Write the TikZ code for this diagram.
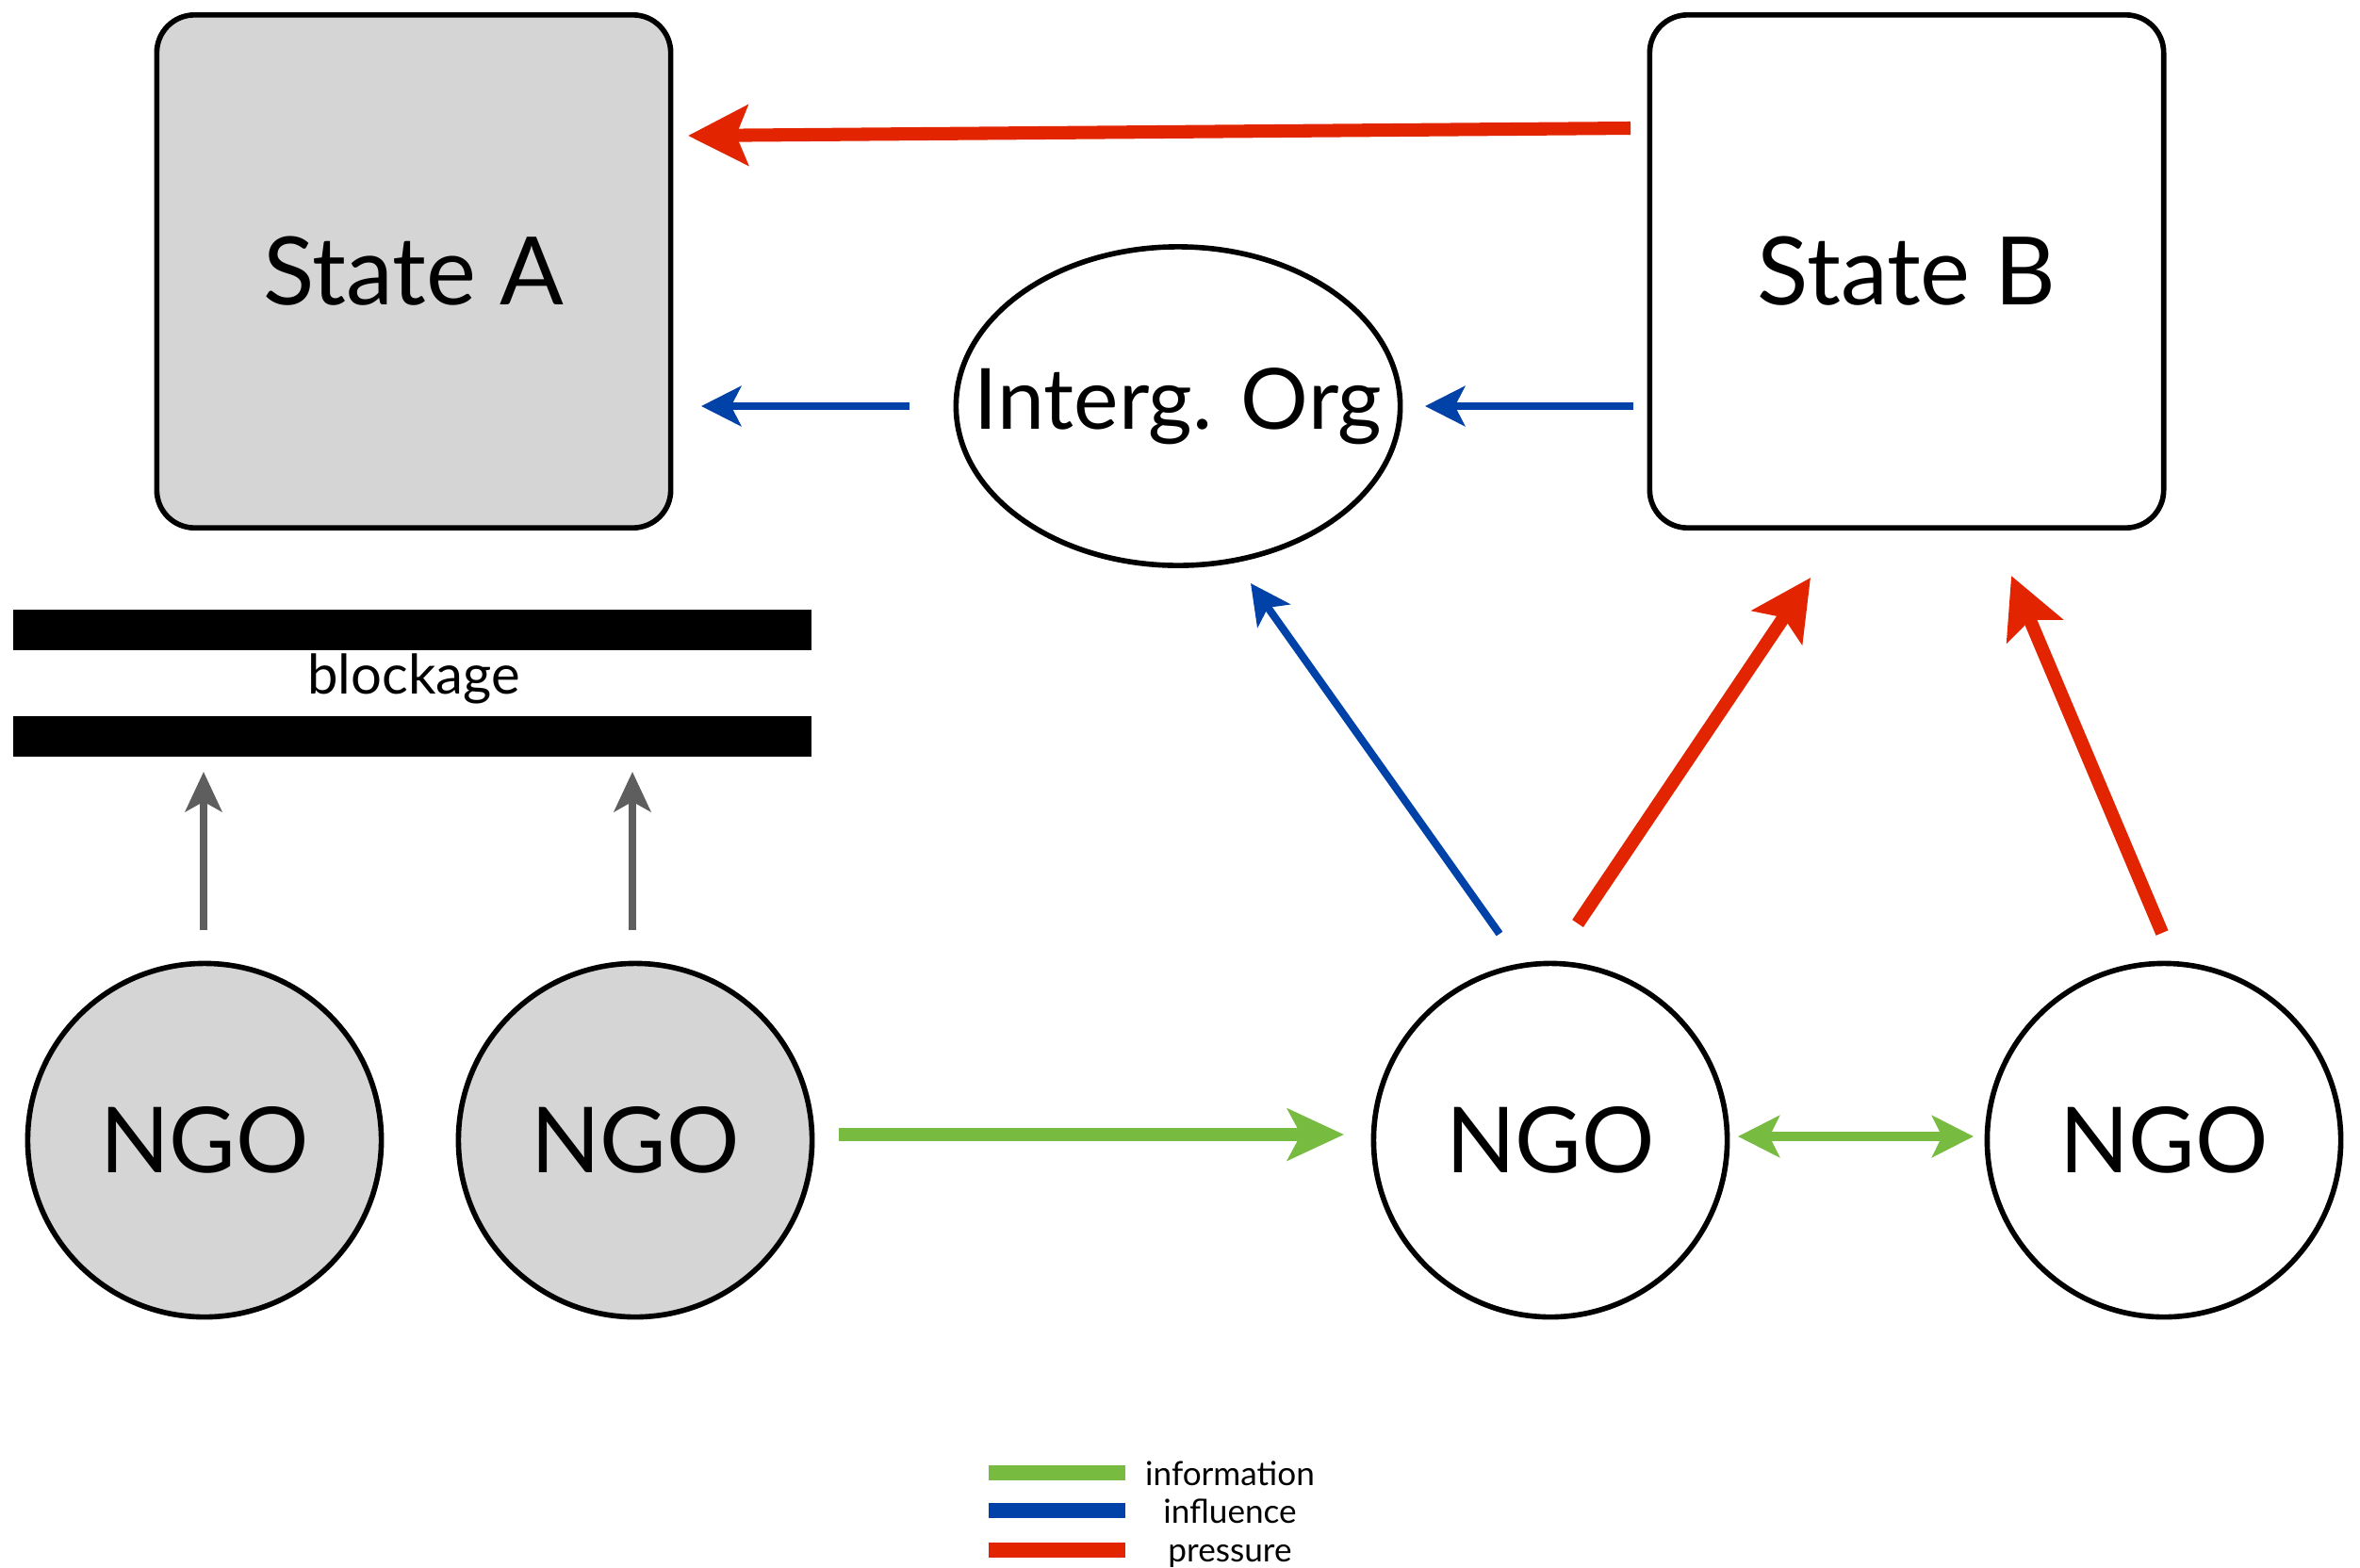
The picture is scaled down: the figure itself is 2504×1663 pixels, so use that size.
\documentclass[tikz,border=0pt]{standalone}
\usepackage{fontspec}
\setmainfont{Lato}
\usetikzlibrary{arrows.meta,shapes.geometric}
\definecolor{pred}{HTML}{E32400}
\definecolor{pblue}{HTML}{0042A8}
\definecolor{pgreen}{HTML}{77BB41}
\definecolor{pgray}{HTML}{5E5E5E}
\definecolor{boxgray}{HTML}{D5D5D5}
\tikzset{
  statebox/.style={draw, line width=1.6pt, rounded corners=0.4cm, minimum width=5.45cm, minimum height=5.44cm, inner sep=0pt, font=\fontsize{28.5}{34}\selectfont},
  orgell/.style={draw, ellipse, line width=1.6pt, minimum width=4.71cm, minimum height=3.38cm, inner sep=0pt},
  ngo/.style={draw, circle, line width=1.6pt, minimum size=3.75cm, inner sep=0pt, font=\fontsize{27.5}{33}\selectfont},
  bar/.style={fill=black, minimum width=8.47cm, minimum height=0.43cm, inner sep=0pt},
  redarr/.style={draw=pred, line width=4pt, -{Stealth[length=18pt, width=18pt, inset=3.5pt, fill=pred]}},
  bluearr/.style={draw=pblue, line width=2.3pt, -{Stealth[length=12pt, width=12pt, inset=3pt, fill=pblue]}},
  greenarr/.style={draw=pgreen, line width=4pt, -{Stealth[length=17pt, width=15.5pt, inset=4pt, fill=pgreen]}},
  greendbl/.style={draw=pgreen, line width=3pt, {Stealth[length=12.5pt, width=12.5pt, inset=3pt, fill=pgreen]}-{Stealth[length=12.5pt, width=12.5pt, inset=3pt, fill=pgreen]}},
  grayarr/.style={draw=pgray, line width=2.3pt, -{Stealth[length=12pt, width=11pt, inset=3pt, fill=pgray]}},
  legline/.style={line width=4.5pt},
  legtext/.style={font=\fontsize{10}{12}\selectfont, inner sep=0pt, anchor=base}
}
\begin{document}
\begin{tikzpicture}[x=0.01cm, y=-0.01cm]
\useasboundingbox (0,0) rectangle (2504,1663);

% boxes
\node[statebox, fill=boxgray] (stateA) at (439,288) {State A};
\node[statebox, fill=white] (stateB) at (2023,288) {State B};
\node[orgell, label={[font=\fontsize{25.5}{30}\selectfont, inner sep=0pt]center:Interg. Org}] (org) at (1250,431) {};

% blockage
\node[bar] (bar1) at (437.5,668.5) {};
\node[bar] (bar2) at (437.5,781) {};
\node[font=\fontsize{16.5}{19}\selectfont, inner sep=0pt] (blk) at (439,720) {blockage};

% NGOs
\node[ngo, fill=boxgray] (ngo1) at (217,1210) {NGO};
\node[ngo, fill=boxgray] (ngo2) at (674,1210) {NGO};
\node[ngo, fill=white] (ngo3) at (1645,1210) {NGO};
\node[ngo, fill=white] (ngo4) at (2296,1210) {NGO};

% arrow end points
\coordinate (r0s) at (1730,136);  \coordinate (r0e) at (730,144);
\coordinate (b1s) at (965,431);   \coordinate (b1e) at (744,431);
\coordinate (b2s) at (1733,431);  \coordinate (b2e) at (1512,431);
\coordinate (b3s) at (1591,991);  \coordinate (b3e) at (1327,619);
\coordinate (r1s) at (1674,980);  \coordinate (r1e) at (1921,613);
\coordinate (r2s) at (2294,990);  \coordinate (r2e) at (2134,611);
\coordinate (g1s) at (890,1204);  \coordinate (g1e) at (1426,1204);
\coordinate (g2s) at (1844,1206); \coordinate (g2e) at (2094,1206);
\coordinate (k1s) at (216,987);   \coordinate (k1e) at (216,819);
\coordinate (k2s) at (671,987);   \coordinate (k2e) at (671,819);

% connectors
\draw[redarr] (r0s) -- (r0e);
\draw[bluearr] (b1s) -- (b1e);
\draw[bluearr] (b2s) -- (b2e);
\draw[bluearr] (b3s) -- (b3e);
\draw[redarr] (r1s) -- (r1e);
\draw[redarr] (r2s) -- (r2e);
\draw[greenarr] (g1s) -- (g1e);
\draw[greendbl] (g2s) -- (g2e);
\draw[grayarr] (k1s) -- (k1e);
\draw[grayarr] (k2s) -- (k2e);

% legend
\coordinate (l1a) at (1049,1563); \coordinate (l1b) at (1194,1563);
\coordinate (l2a) at (1049,1603); \coordinate (l2b) at (1194,1603);
\coordinate (l3a) at (1049,1645); \coordinate (l3b) at (1194,1645);
\draw[legline, pgreen] (l1a) -- (l1b);
\draw[legline, pblue] (l2a) -- (l2b);
\draw[legline, pred] (l3a) -- (l3b);
\node[legtext] (t1) at (1305,1576) {information};
\node[legtext] (t2) at (1305,1616) {influence};
\node[legtext] (t3) at (1305,1657) {pressure};
\end{tikzpicture}
\end{document}
